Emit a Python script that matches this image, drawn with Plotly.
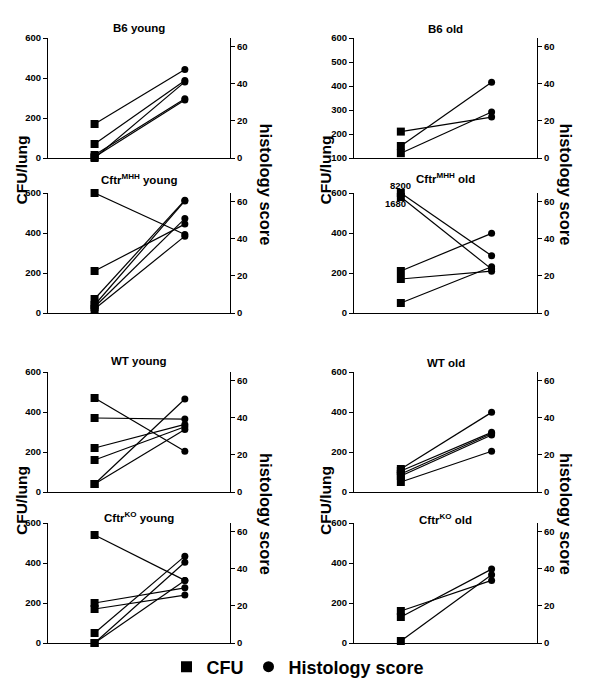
import plotly.graph_objects as go

FONT = "Arial, Liberation Sans, Helvetica, sans-serif"

titles = ["B6 young", "B6 old",
          "Cftr<sup>MHH</sup> young", "Cftr<sup>MHH</sup> old",
          "WT young", "WT old",
          "Cftr<sup>KO</sup> young", "Cftr<sup>KO</sup> old"]

# CFU/lung (left point, square) and histology score (right point, circle) per mouse
b6_young_cfu = [170, 70, 0, 15, 5]
b6_young_hist = [47.8, 41.9, 41.1, 32.0, 31.3]

b6_old_cfu = [210, 150, 120]
b6_old_hist = [22.1, 40.9, 24.8]

mhh_young_cfu = [600, 210, 70, 40, 30, 20]
mhh_young_hist = [42.4, 48.0, 60.9, 60.5, 51.0, 41.5]

mhh_old_cfu = [600, 580, 210, 170, 50]
mhh_old_hist = [30.9, 23.7, 43.0, 22.6, 25.0]
mhh_old_offscale = ["8200", "1680"]

wt_young_cfu = [470, 370, 220, 160, 40, 40]
wt_young_hist = [22.0, 39.4, 36.5, 35.2, 50.2, 33.8]

wt_old_cfu = [115, 105, 90, 80, 50]
wt_old_hist = [43.0, 32.2, 31.6, 30.8, 22.0]

ko_young_cfu = [540, 200, 170, 50, 0, 0]
ko_young_hist = [33.8, 29.8, 25.9, 46.9, 43.6, 33.8]

ko_old_cfu = [160, 130, 10]
ko_old_hist = [33.8, 39.9, 36.8]

cfu_data = [b6_young_cfu, b6_old_cfu, mhh_young_cfu, mhh_old_cfu,
            wt_young_cfu, wt_old_cfu, ko_young_cfu, ko_old_cfu]
hist_data = [b6_young_hist, b6_old_hist, mhh_young_hist, mhh_old_hist,
             wt_young_hist, wt_old_hist, ko_young_hist, ko_old_hist]

cfu_ranges = [[0, 600], [100, 600], [0, 600], [0, 600],
              [0, 600], [0, 600], [0, 600], [0, 600]]
cfu_ticks = [[0, 200, 400, 600], [100, 200, 300, 400, 500, 600],
             [0, 200, 400, 600], [0, 200, 400, 600],
             [0, 200, 400, 600], [0, 200, 400, 600],
             [0, 200, 400, 600], [0, 200, 400, 600]]
hist_range = [0, 64.8]
hist_ticks = [0, 20, 40, 60]

# ---- layout geometry (page pixels; page body has an 8px margin) ----
OFF = 8
W, H = 600 - OFF, 696 - OFF
col_x = [(48, 230), (354, 537)]
row_y = [(38, 158), (193, 313), (372, 492), (523, 643)]
title_y = [28, 29, 179, 178, 361, 363, 517, 519]
xr = [-0.516, 1.5]

fig = go.Figure()
layout = dict(width=W, height=H, margin=dict(l=0, r=0, t=0, b=0, autoexpand=False),
              plot_bgcolor="white", paper_bgcolor="white",
              font=dict(family=FONT, color="black"),
              showlegend=True)
annotations = []

def px2x(p):
    return (p - OFF) / W

def px2y(p):
    return 1 - (p - OFF) / H

for i in range(8):
    k = i + 1
    col = i % 2
    row = i // 2
    xn = "x" if k == 1 else f"x{k}"
    yl = "y" if k == 1 else f"y{2*k-1}"
    yr = f"y{2*k}"
    lo, hi = cfu_ranges[i]

    def to_left(h, lo=lo, hi=hi):
        return lo + (h - hist_range[0]) / (hist_range[1] - hist_range[0]) * (hi - lo)

    cfu = cfu_data[i]
    hist = hist_data[i]
    for c, h in zip(cfu, hist):
        fig.add_trace(go.Scatter(x=[0, 1], y=[c, to_left(h)], mode="lines",
                                 line=dict(color="black", width=1.2),
                                 xaxis=xn, yaxis=yl, showlegend=False,
                                 hoverinfo="skip"))
    fig.add_trace(go.Scatter(x=[0] * len(cfu), y=cfu, mode="markers",
                             marker=dict(symbol="square", size=8, color="black"),
                             xaxis=xn, yaxis=yl, showlegend=False, cliponaxis=False))
    fig.add_trace(go.Scatter(x=[1] * len(hist), y=hist, mode="markers",
                             marker=dict(symbol="circle", size=7, color="black"),
                             xaxis=xn, yaxis=yr, showlegend=False, cliponaxis=False))

    x0, x1 = col_x[col]
    y0, y1 = row_y[row]
    layout["xaxis" if k == 1 else f"xaxis{k}"] = dict(
        domain=[px2x(x0), px2x(x1)], anchor=yl, range=xr, automargin=False,
        showline=True, linecolor="black", linewidth=1.2,
        showticklabels=False, ticks="", showgrid=False, zeroline=False)
    layout["yaxis" if k == 1 else f"yaxis{2*k-1}"] = dict(
        domain=[px2y(y1), px2y(y0)], anchor=xn, range=[lo, hi], automargin=False,
        tickvals=cfu_ticks[i], ticks="outside", ticklen=4, tickwidth=1.2,
        tickcolor="black", showline=True, linecolor="black", linewidth=1.2,
        showgrid=False, zeroline=False,
        tickfont=dict(family=FONT, size=9.5, color="black", weight="bold"))
    layout[f"yaxis{2*k}"] = dict(
        overlaying=yl, side="right", anchor=xn, range=hist_range, automargin=False,
        tickvals=hist_ticks, ticks="outside", ticklen=4, tickwidth=1.2,
        tickcolor="black", showline=True, linecolor="black", linewidth=1.2,
        showgrid=False, zeroline=False,
        tickfont=dict(family=FONT, size=9.5, color="black", weight="bold"))

    annotations.append(dict(text=titles[i], xref="paper", yref="paper",
                            x=px2x((x0 + x1) / 2), y=px2y(title_y[i]),
                            xanchor="center", yanchor="middle", showarrow=False,
                            font=dict(family=FONT, size=11.5, color="black", weight="bold")))

# off-scale CFU values in Cftr MHH old
annotations.append(dict(text=mhh_old_offscale[0], xref="x4", yref="y7",
                        x=0, y=mhh_old_cfu[0], yshift=7, showarrow=False,
                        xanchor="center", yanchor="middle",
                        font=dict(family=FONT, size=9.5, color="black", weight="bold")))
annotations.append(dict(text=mhh_old_offscale[1], xref="x4", yref="y7",
                        x=0, y=mhh_old_cfu[1], yshift=-7, xshift=-5, showarrow=False,
                        xanchor="center", yanchor="middle",
                        font=dict(family=FONT, size=9.5, color="black", weight="bold")))

# big axis titles
for cx in (21, 325):
    for cy in (170.5, 501):
        annotations.append(dict(text="CFU/lung", xref="paper", yref="paper",
                                x=px2x(cx), y=px2y(cy), textangle=-90,
                                xanchor="center", yanchor="middle", showarrow=False,
                                font=dict(family=FONT, size=15.5, color="black", weight="bold")))
for cx in (266, 566):
    for cy in (184.5, 514):
        annotations.append(dict(text="histology score", xref="paper", yref="paper",
                                x=px2x(cx), y=px2y(cy), textangle=90,
                                xanchor="center", yanchor="middle", showarrow=False,
                                font=dict(family=FONT, size=16.5, color="black", weight="bold")))

# legend entries
fig.add_trace(go.Scatter(x=[None], y=[None], mode="markers", name="CFU",
                         marker=dict(symbol="square", size=11, color="black"),
                         xaxis="x", yaxis="y", showlegend=True))
fig.add_trace(go.Scatter(x=[None], y=[None], mode="markers", name="Histology score",
                         marker=dict(symbol="circle", size=11, color="black"),
                         xaxis="x", yaxis="y", showlegend=True))

layout["legend"] = dict(orientation="h", x=px2x(298), xanchor="center",
                        y=px2y(667), yanchor="middle",
                        font=dict(family=FONT, size=18, color="black", weight="bold"),
                        itemsizing="trace", bgcolor="rgba(0,0,0,0)")
layout["annotations"] = annotations
fig.update_layout(**layout)

fig.write_html("out.html")
